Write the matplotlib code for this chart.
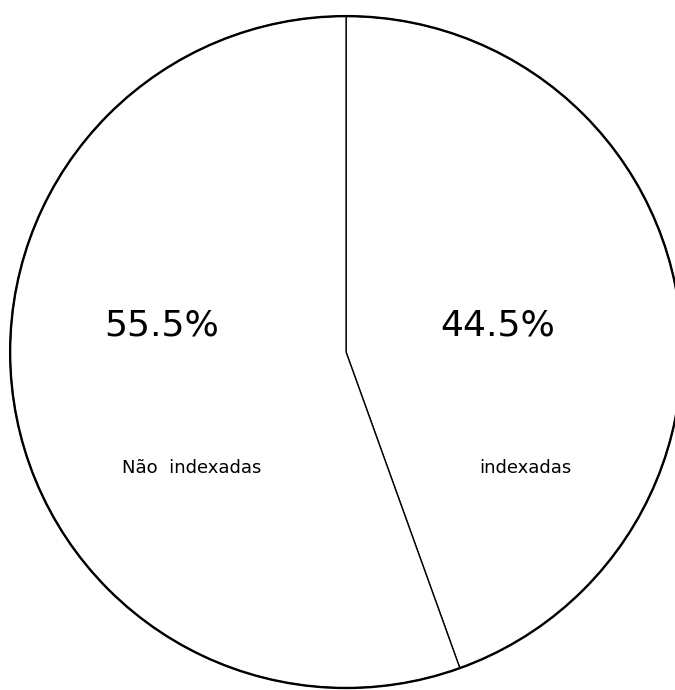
import matplotlib
matplotlib.use('Agg')
import matplotlib.pyplot as plt
from matplotlib.patches import Circle

# share of documents, clockwise from 12 o'clock
labels = ['indexadas', 'Não  indexadas']
shares = [44.5, 55.5]
pct_pos = [(0.45, 0.08), (-0.55, 0.08)]
name_pos = [(0.535, -0.345), (-0.46, -0.345)]


def main():
    fig = plt.figure(figsize=(6.75, 6.9), dpi=100)
    ax = fig.add_axes([0, 0, 1, 1])

    wedges, _ = ax.pie(shares, startangle=90, counterclock=False, radius=1.0,
                       colors=['white', 'white'],
                       wedgeprops={'edgecolor': 'black', 'linewidth': 1.0})
    # heavier outer rim, as in the drawn original
    ax.add_patch(Circle(wedges[0].center, wedges[0].r, fill=False,
                        edgecolor='black', linewidth=1.7))

    for share, (x, y) in zip(shares, pct_pos):
        ax.text(x, y, f'{share:.1f}%', ha='center', va='center',
                fontsize=26, color='black')
    for name, (x, y) in zip(labels, name_pos):
        ax.text(x, y, name, ha='center', va='center',
                fontsize=13, color='black')

    ax.set_xlim(-1.03, 0.979)
    ax.set_ylim(-1.006, 1.048)
    ax.set_aspect('equal')
    ax.axis('off')

    fig.savefig('out.png', dpi=100, facecolor='white')


if __name__ == '__main__':
    main()
